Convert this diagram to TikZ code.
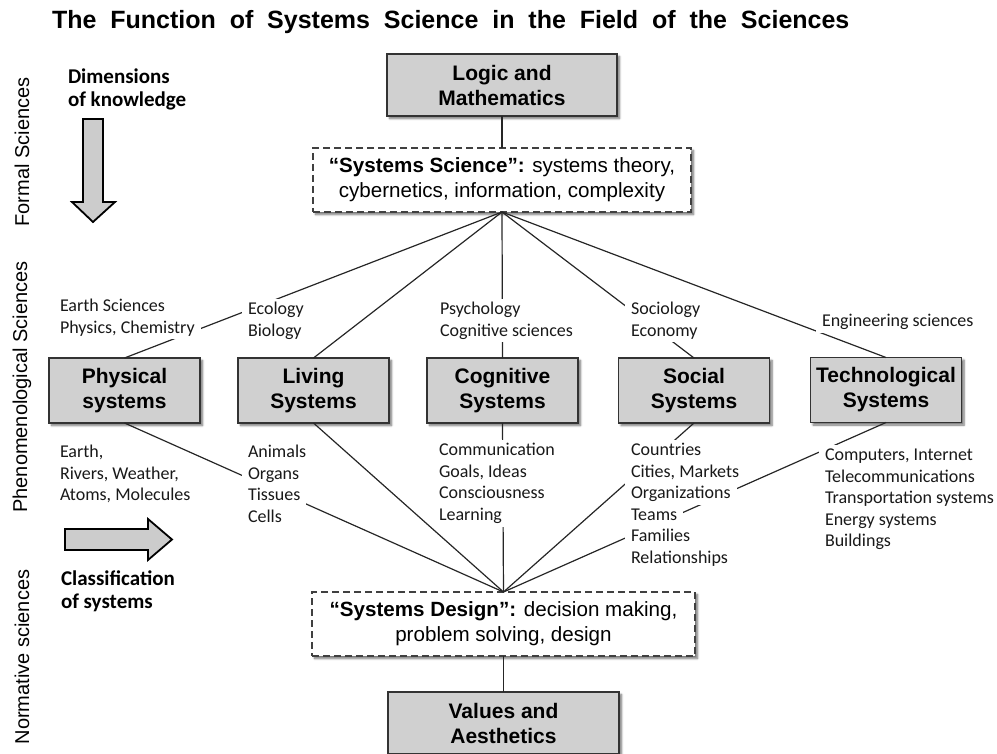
\documentclass[tikz,border=0pt]{standalone}
\usepackage{fontspec}
\setmainfont{Liberation Sans}
\newfontfamily\calfont{Carlito}
\newfontfamily\titlefont[WordSpace=2.0]{Liberation Sans}
\usetikzlibrary{shadows.blur}

% stack of single-line labels, each line on its own white strip
\newcommand\labelrows[4]{%
  \foreach \txt [count=\i] in {#4}
    \node[row] (#1-\i) at ({#2-6},{#3+21.6*(\i-1)}) {\txt};}

\begin{document}
\begin{tikzpicture}[x=1pt,y=-1pt,
  every node/.style={inner sep=0pt, outer sep=0pt},
  softshadow/.style={blur shadow={shadow xshift=2.5pt, shadow yshift=-2.5pt,
      shadow blur steps=6, shadow opacity=55}},
  sysbox/.style={draw=black!80, line width=1.5pt, fill=gray!37, align=center,
      minimum width=151pt, minimum height=65pt,
      font=\fontsize{21}{25}\selectfont\bfseries, softshadow},
  dashbox/.style={draw=black!75, line width=1.5pt, dash pattern=on 7pt off 4pt,
      fill=white, align=center, minimum width=378pt, minimum height=64pt,
      font=\fontsize{20.6}{25}\selectfont, softshadow},
  row/.style={anchor=west, fill=white, inner xsep=6pt, inner ysep=0pt,
      text height=15.3pt, text depth=6.3pt, text=black!90,
      font=\calfont\fontsize{18}{21.6}\selectfont},
  sidelbl/.style={rotate=90, font=\fontsize{20}{24}\selectfont},
  boldlbl/.style={anchor=west, font=\calfont\bfseries\fontsize{21}{25}\selectfont},
  conn/.style={draw=black!85, line width=1.2pt},
  fatarrow/.style={draw=black, line width=1.8pt, fill=gray!40, line join=miter}]

\useasboundingbox (0,0) rectangle (997,754);

% title
\node[anchor=west, font=\fontsize{25}{29}\titlefont\bfseries] (title) at (52,22)
  {The Function of Systems Science in the Field of the Sciences};

% side captions
\node[sidelbl] (formal) at (22,152) {Formal Sciences};
\node[sidelbl] (phen) at (22,387) {Phenomenological Sciences};
\node[sidelbl] (norm) at (22,657) {Normative sciences};

% axis captions and fat arrows
\node[boldlbl] (dim1) at (68,76) {Dimensions};
\node[boldlbl] (dim2) at (68,101) {of knowledge};
\node[boldlbl] (cls1) at (61,578) {Classification};
\node[boldlbl] (cls2) at (61,603) {of systems};
\filldraw[fatarrow] (83,119) -- (103,119) -- (103,202) -- (115,202) -- (93,222)
  -- (72,202) -- (83,202) -- cycle;
\filldraw[fatarrow] (65,529) -- (148,529) -- (148,519) -- (172,539.5)
  -- (148,560) -- (148,550) -- (65,550) -- cycle;

% main boxes
\node[sysbox, minimum width=230pt, minimum height=62pt] (logic) at (502,85)
  {Logic and\\Mathematics};
\node[dashbox] (ss) at (502,180)
  {\textbf{“Systems Science”:} systems theory,\\cybernetics, information, complexity};
\node[sysbox] (phys) at (124.5,390.5) {Physical\\systems};
\node[sysbox] (liv) at (313.5,390.5) {Living\\Systems};
\node[sysbox] (cog) at (502.5,390.5) {Cognitive\\Systems};
\node[sysbox] (soc) at (694,390.5) {Social\\Systems};
\node[sysbox] (tech) at (886,390) {Technological\\Systems};
\node[dashbox, minimum width=383pt] (sd) at (503.5,624)
  {\textbf{“Systems Design”:} decision making,\\problem solving, design};
\node[sysbox, minimum width=231pt, minimum height=62pt] (val) at (503.5,723)
  {Values and\\Aesthetics};

% connectors
\draw[conn] (logic.south) -- (ss.north);
\draw[conn] (sd.south) -- (val.north);
\foreach \b in {phys,liv,cog,soc,tech}{
  \draw[conn] (ss.south) -- (\b.north);
  \draw[conn] (\b.south) -- (sd.north);
}

% disciplines above the boxes
\labelrows{physup}{60}{307}{Earth Sciences, {Physics, Chemistry}}
\labelrows{livup}{248}{310}{Ecology, Biology}
\labelrows{cogup}{440}{310}{Psychology, Cognitive sciences}
\labelrows{socup}{631}{310}{Sociology, Economy}
\labelrows{tecup}{822}{322}{Engineering sciences}

% examples below the boxes
\labelrows{physdn}{60}{453}{{Earth,}, {Rivers, Weather,}, {Atoms, Molecules}}
\labelrows{livdn}{248}{453}{Animals, Organs, Tissues, Cells}
\labelrows{cogdn}{439}{451}{Communication, {Goals, Ideas}, Consciousness, Learning}
\labelrows{socdn}{631}{451}{Countries, {Cities, Markets}, Organizations, Teams,
  Families, Relationships}
\labelrows{tecdn}{825}{456}{{Computers, Internet}, Telecommunications,
  Transportation systems, Energy systems, Buildings}

\end{tikzpicture}
\end{document}
